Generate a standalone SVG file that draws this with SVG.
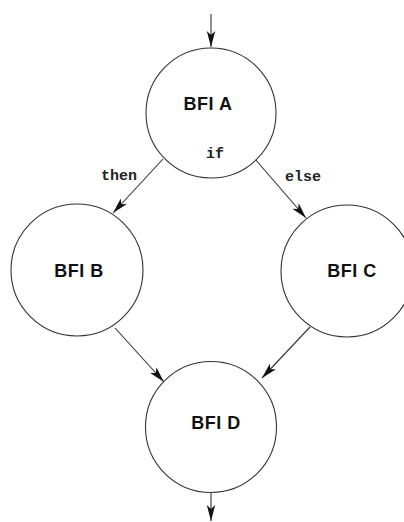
<svg xmlns="http://www.w3.org/2000/svg" width="404" height="522" viewBox="0 0 404 522">
<style>
.node circle{fill:#fff;stroke:#333;stroke-width:1.1}
.lbl{font-family:"Liberation Sans",Arial,sans-serif;font-weight:bold;font-size:18px;letter-spacing:0.5px;fill:#111;text-anchor:middle}
.code{font-family:"Liberation Mono","Courier New",monospace;font-weight:bold;font-size:15px;fill:#222;text-anchor:middle}
.edge{stroke:#333;stroke-width:1.1;fill:none;marker-end:url(#ah)}
</style>
<defs>
<marker id="ah" markerUnits="userSpaceOnUse" markerWidth="16" markerHeight="10" refX="16" refY="5" orient="auto">
<path d="M0,0.8 L16,5 L0,9.2 L4,5 Z" fill="#111"/>
</marker>
</defs>
<rect width="404" height="522" fill="#fff"/>
<g id="connectors">
<line class="edge" x1="211" y1="14" x2="211" y2="47"/>
<line class="edge" x1="163" y1="159" x2="113" y2="213"/>
<line class="edge" x1="255" y1="159" x2="306" y2="218"/>
<line class="edge" x1="115" y1="328" x2="164" y2="382"/>
<line class="edge" x1="310" y1="327" x2="262" y2="378"/>
<line class="edge" x1="211" y1="493" x2="211" y2="521"/>
<text class="code" x="119" y="180">then</text>
<text class="code" x="303" y="181">else</text>
</g>
<g id="nodeA" class="node">
<circle cx="211" cy="113" r="65"/>
<text class="lbl" x="208" y="110">BFI A</text>
<text class="code" x="215" y="158">if</text>
</g>
<g id="nodeB" class="node">
<circle cx="77" cy="270" r="66"/>
<text class="lbl" x="79" y="277">BFI B</text>
</g>
<g id="nodeC" class="node">
<circle cx="347" cy="271" r="66"/>
<text class="lbl" x="352" y="277">BFI C</text>
</g>
<g id="nodeD" class="node">
<circle cx="211" cy="427" r="65.5"/>
<text class="lbl" x="216" y="429">BFI D</text>
</g>
</svg>
